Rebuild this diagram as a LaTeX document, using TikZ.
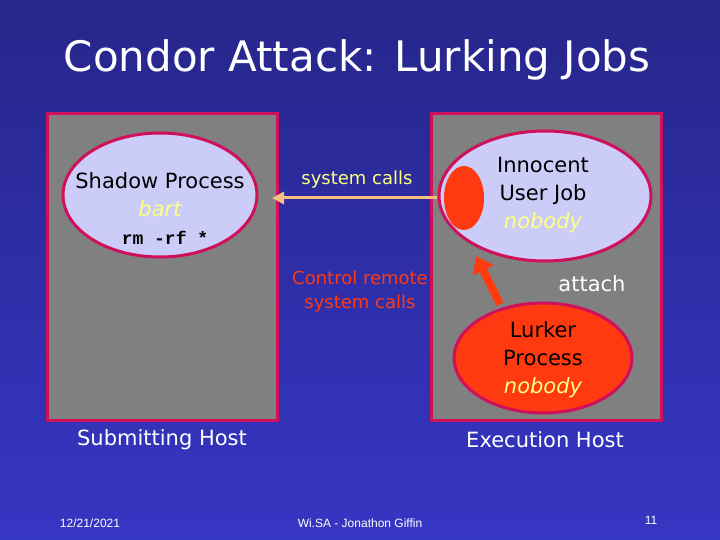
\documentclass[tikz,border=0pt]{standalone}
\usepackage{fontspec}
\setmainfont{DejaVu Sans}
\newfontfamily\ftfont{Liberation Sans}
\newfontfamily\monofont{Liberation Mono}
\usetikzlibrary{arrows.meta}
\definecolor{bgtop}{HTML}{26268A}
\definecolor{bgbot}{HTML}{3636C4}
\definecolor{boxgray}{HTML}{808080}
\definecolor{rim}{HTML}{D0105A}
\definecolor{lav}{HTML}{CCCCF8}
\definecolor{hot}{HTML}{FF3A10}
\definecolor{yel}{HTML}{FFFF80}
\definecolor{peach}{HTML}{F8C080}
\tikzset{
 hostbox/.style={draw=rim,line width=3pt,fill=boxgray},
 proc/.style={draw=rim,line width=3pt,fill=lav,ellipse},
 lbl/.style={font=\fontsize{21}{28}\selectfont,align=center},
 foot/.style={font=\ftfont\fontsize{12}{14}\selectfont,text=white}
}
\usetikzlibrary{shapes.geometric}
\begin{document}
\begin{tikzpicture}[x=1pt,y=-1pt]
\shade[top color=bgtop,bottom color=bgbot] (0,0) rectangle (720,540);
\useasboundingbox (0,0) rectangle (720,540);
\node[font=\fontsize{42}{48}\selectfont,text=white] (title) at (357,60) {Condor Attack: Lurking Jobs};
\draw[hostbox] (47,114) rectangle (277,420);
\draw[hostbox] (431,114) rectangle (661,420);
\node[proc,minimum width=194,minimum height=124] (shadow) at (160,195) {};
\node[lbl,text=black] (shadowt) at (160,195) {Shadow Process\\\textcolor{yel}{\itshape bart}};
\node[font=\monofont\bfseries\fontsize{18}{20}\selectfont] (rm) at (165,238) {rm -rf *};
\node[proc,minimum width=212,minimum height=130] (inno) at (545,196) {};
\node[ellipse,fill=hot,minimum width=40,minimum height=64,inner sep=0] (dot) at (464,198) {};
\node[lbl] (innot) at (543,195) {Innocent\\User Job\\\textcolor{yel}{\itshape nobody}};
\node[proc,fill=hot,minimum width=178,minimum height=110] (lurk) at (543,358) {};
\node[lbl] (lurkt) at (543,360) {Lurker\\Process\\\textcolor{yel}{\itshape nobody}};
\coordinate (sa) at (437,198);
\coordinate (se) at (272,198);
\draw[peach,line width=3pt,-{Triangle[length=12pt,width=12pt]}] (sa) -- (se);
\node[font=\fontsize{18}{20}\selectfont,text=yel] (sc) at (357,180) {system calls};
\node[font=\fontsize{18}{24}\selectfont,text=hot,align=center] (crs) at (360,292) {Control remote\\system calls};
\coordinate (aa) at (500,304);
\coordinate (ae) at (476,256);
\draw[hot,line width=8pt,-{Triangle[length=16pt,width=22pt]}] (aa) -- (ae);
\node[lbl,text=white] (att) at (592,284) {attach};
\node[lbl,text=white] (sub) at (162,440) {Submitting Host};
\node[lbl,text=white] (exe) at (545,440) {Execution Host};
\node[foot] (date) at (90,523) {12/21/2021};
\node[foot] (wisa) at (360,523) {Wi.SA - Jonathon Giffin};
\node[foot] (pg) at (651,520) {11};
\end{tikzpicture}
\end{document}
